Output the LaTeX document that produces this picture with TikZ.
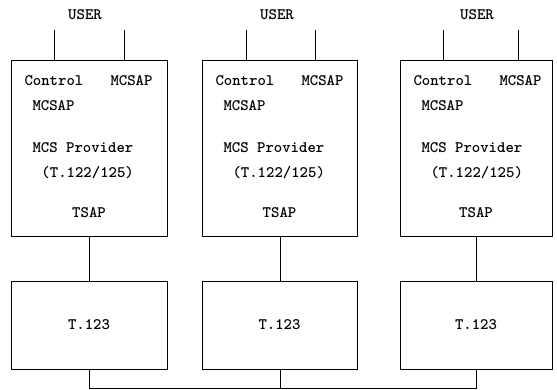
\documentclass[tikz,border=0pt]{standalone}
\begin{document}
\begin{tikzpicture}[x=1pt,y=-1pt,
  line width=1pt,
  box/.style={draw,inner sep=0pt,minimum width=#1},
  txt/.style={font=\ttfamily\bfseries\fontsize{16}{17}\selectfont,inner sep=0pt},
  ltxt/.style={txt,anchor=west}]
\useasboundingbox (0,0) rectangle (557,390);
\foreach \n/\xl/\xr/\ua/\ub/\ux in {A/11/167/54/124/85, B/202/357/246/315/277, C/400/552/443/518/477}{
  \pgfmathsetmacro{\w}{\xr-\xl}
  \pgfmathsetmacro{\c}{(\xr+\xl)/2}
  \node[box=\w pt,minimum height=176pt,anchor=north west] (top\n) at (\xl,60) {};
  \node[box=\w pt,minimum height=88pt,anchor=north west] (low\n) at (\xl,281) {};
  \node[txt] (user\n) at (\ux,15) {USER};
  \coordinate (ua\n) at (\ua,30);
  \coordinate (ub\n) at (\ub,30);
  \draw (ua\n) -- (ua\n |- top\n.north);
  \draw (ub\n) -- (ub\n |- top\n.north);
  \node[ltxt] (ctl\n) at (\xl+13,81) {Control};
  \node[ltxt] (mcr\n) at (\xl+99,81) {MCSAP};
  \node[ltxt] (mcl\n) at (\xl+21,106) {MCSAP};
  \node[ltxt] (prv\n) at (\xl+21,148) {MCS Provider};
  \node[ltxt] (std\n) at (\xl+30,173) {(T.122/125)};
  \node[txt] (tsap\n) at (\c,213) {TSAP};
  \node[txt] (t\n) at (\c,325) {T.123};
  \draw (top\n.south) -- (low\n.north);
}
\coordinate (busL) at (89,388);
\draw (lowA.south) -- (lowA.south |- busL) -- (lowC.south |- busL) -- (lowC.south);
\draw (lowB.south) -- (lowB.south |- busL);
\end{tikzpicture}
\end{document}
